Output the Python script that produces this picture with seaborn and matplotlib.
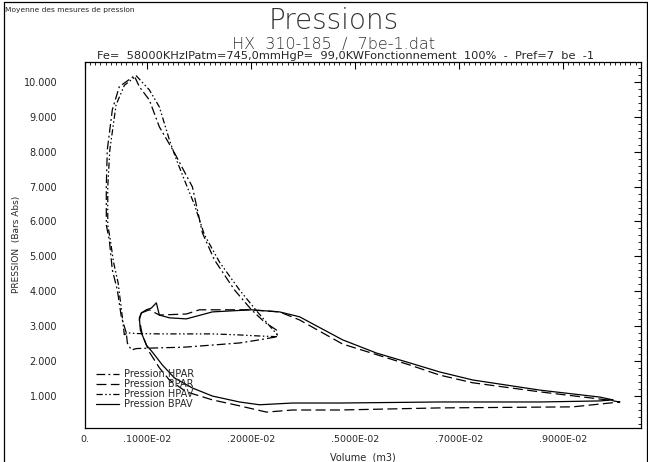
import numpy as np
import pandas as pd
import matplotlib
matplotlib.use("Agg")
import matplotlib.pyplot as plt
from matplotlib.lines import Line2D
from matplotlib.ticker import MultipleLocator
import seaborn as sns

# Volumes (m3) and pressures (bars abs) of the four pressure loops
hpar_volume = [0.000597, 0.000501, 0.000424, 0.000328, 0.000270, 0.000212, 0.000212, 0.000231,
               0.000328, 0.000462, 0.000751, 0.000848, 0.001040, 0.001233, 0.001522, 0.001869,
               0.002062, 0.002293, 0.002678, 0.003006, 0.003256, 0.003487, 0.003507, 0.003160,
               0.002775, 0.002254, 0.001715, 0.001233, 0.000790, 0.000694, 0.000617, 0.000597]
hpar_pressure = [2.81, 3.27, 4.04, 4.61, 5.47, 5.90, 6.99, 8.05,
                 9.20, 9.86, 10.17, 9.86, 9.48, 8.71, 7.97, 6.99,
                 5.67, 4.90, 4.04, 3.47, 3.12, 2.89, 2.70, 2.61,
                 2.52, 2.46, 2.40, 2.38, 2.36, 2.32, 2.52, 2.81]

hpav_volume = [0.000559, 0.000520, 0.000440, 0.000350, 0.000290, 0.000240, 0.000240, 0.000280,
               0.000400, 0.000560, 0.000790, 0.001040, 0.001233, 0.001426, 0.001561, 0.001715,
               0.001908, 0.002100, 0.002389, 0.002775, 0.003121, 0.003507, 0.003507, 0.003160,
               0.002775, 0.002254, 0.001715, 0.001233, 0.000790, 0.000617, 0.000559]
hpav_pressure = [2.75, 3.27, 4.24, 4.84, 5.47, 5.90, 6.99, 8.05,
                 9.34, 9.90, 10.17, 9.77, 9.28, 8.34, 7.77, 7.19,
                 6.48, 5.62, 4.84, 4.04, 3.41, 2.75, 2.70, 2.72,
                 2.75, 2.78, 2.78, 2.78, 2.79, 2.81, 2.75]

bpar_volume = [0.000886, 0.001040, 0.001233, 0.001753, 0.002004, 0.002967, 0.003545, 0.003931,
               0.004759, 0.006050, 0.006628, 0.007264, 0.008555, 0.009846, 0.010096, 0.009191,
               0.006628, 0.004701, 0.003796, 0.003295, 0.002775, 0.002254, 0.001753, 0.001426,
               0.001233, 0.001040, 0.000906, 0.000848, 0.000886]
bpar_pressure = [3.38, 3.47, 3.32, 3.35, 3.47, 3.47, 3.41, 3.18,
                 2.49, 1.89, 1.60, 1.38, 1.12, 0.89, 0.83, 0.69,
                 0.66, 0.60, 0.60, 0.54, 0.72, 0.89, 1.12, 1.46,
                 1.81, 2.26, 2.75, 3.18, 3.38]

bpav_volume = [0.009961, 0.009711, 0.008555, 0.007264, 0.006628, 0.006050, 0.005414, 0.004759,
               0.003931, 0.003545, 0.003006, 0.002254, 0.001753, 0.001426, 0.001233, 0.001175,
               0.001079, 0.000983, 0.000886, 0.000848, 0.000867, 0.000983, 0.001098, 0.001291,
               0.001522, 0.001869, 0.002254, 0.002775, 0.003160, 0.003796, 0.004701, 0.006628,
               0.008555, 0.009711, 0.009961]
bpav_pressure = [0.89, 0.97, 1.17, 1.46, 1.69, 1.95, 2.23, 2.61,
                 3.27, 3.41, 3.47, 3.41, 3.21, 3.24, 3.32, 3.67,
                 3.52, 3.47, 3.38, 3.24, 2.89, 2.46, 2.26, 1.89,
                 1.52, 1.23, 1.00, 0.83, 0.75, 0.80, 0.80, 0.83,
                 0.83, 0.86, 0.89]

series_names = ["Pression HPAR", "Pression BPAR", "Pression HPAV", "Pression BPAV"]
series_dashes = {
    "Pression HPAR": (7, 2.5, 1.5, 2.5),
    "Pression BPAR": (8, 3.5),
    "Pression HPAV": (5, 2, 1.2, 2, 1.2, 2),
    "Pression BPAV": "",
}

x_tick_values = [-0.0002, 0.001, 0.003, 0.005, 0.007, 0.009]
x_tick_labels = ["0.", ".1000E-02", ".2000E-02", ".5000E-02", ".7000E-02", ".9000E-02"]
y_tick_values = [1, 2, 3, 4, 5, 6, 7, 8, 9, 10]

frames = []
for name, vol, pres in [("Pression HPAR", hpar_volume, hpar_pressure),
                        ("Pression BPAR", bpar_volume, bpar_pressure),
                        ("Pression HPAV", hpav_volume, hpav_pressure),
                        ("Pression BPAV", bpav_volume, bpav_pressure)]:
    frames.append(pd.DataFrame({"volume": vol, "pression": pres, "serie": name}))
df = pd.concat(frames, ignore_index=True)

sns.set_style("white")
plt.rcParams["font.family"] = ["DejaVu Sans"]

fig = plt.figure(figsize=(6.48, 4.62), dpi=100)
ax = fig.add_axes([0.131, 0.074, 0.858, 0.792])

sns.lineplot(data=df, x="volume", y="pression", style="serie", style_order=series_names,
             dashes=series_dashes, color="black", linewidth=0.9, sort=False,
             estimator=None, legend=False, ax=ax)

ax.set_xlim(-0.0002, 0.0105)
ax.set_ylim(0.09, 10.57)

ax.set_xticks(x_tick_values)
ax.set_xticklabels(x_tick_labels)
ax.set_yticks(y_tick_values)
ax.set_yticklabels([f"{v:.3f}" for v in y_tick_values])
ax.xaxis.set_minor_locator(MultipleLocator(0.0001))
ax.yaxis.set_minor_locator(MultipleLocator(0.2))
ax.tick_params(which="both", direction="in", top=True, right=True, color="black")
ax.tick_params(which="major", length=5, width=0.8)
ax.tick_params(which="minor", length=2.5, width=0.6)
ax.tick_params(axis="x", labelsize=6.8, pad=5)
ax.tick_params(axis="y", labelsize=7, pad=20)
for s in ax.spines.values():
    s.set_color("black")
    s.set_linewidth(0.9)

ax.set_xlabel("Volume  (m3)", fontsize=7, labelpad=6)
ax.set_ylabel("PRESSION  (Bars Abs)", fontsize=6.5, labelpad=2)

handles = []
for n in series_names:
    if series_dashes[n]:
        handles.append(Line2D([], [], color="black", linewidth=0.9, dashes=series_dashes[n]))
    else:
        handles.append(Line2D([], [], color="black", linewidth=0.9, linestyle="-"))
ax.legend(handles, series_names, loc="upper left", bbox_to_anchor=(0.02, 0.16),
          frameon=False, fontsize=7, handlelength=2.4, labelspacing=0.0,
          handletextpad=0.5, borderaxespad=0.0, borderpad=0.0)

fig.text(0.008, 0.985, "Moyenne des mesures de pression", fontsize=5.4, ha="left", va="top")
fig.text(0.515, 1 - 29 / 462, "Pressions", fontsize=20, ha="center", va="baseline",
         fontweight="light", color="#333333")
fig.text(0.515, 1 - 49 / 462, "HX  310-185  /  7be-1.dat", fontsize=11.5, ha="center",
         va="baseline", fontweight="light", color="#333333")
fig.text(0.533, 0.878, "Fe=  58000KHzlPatm=745,0mmHgP=  99,0KWFonctionnement  100%  -  Pref=7  be  -1",
         fontsize=8.2, ha="center", va="center")

# page frame
fig.add_artist(Line2D([0.006, 0.006], [0.0, 0.995], transform=fig.transFigure, color="black", lw=0.9))
fig.add_artist(Line2D([0.006, 0.998], [0.995, 0.995], transform=fig.transFigure, color="black", lw=0.9))
fig.add_artist(Line2D([0.998, 0.998], [0.0, 0.995], transform=fig.transFigure, color="black", lw=0.9))

fig.savefig("out.png", dpi=100)
